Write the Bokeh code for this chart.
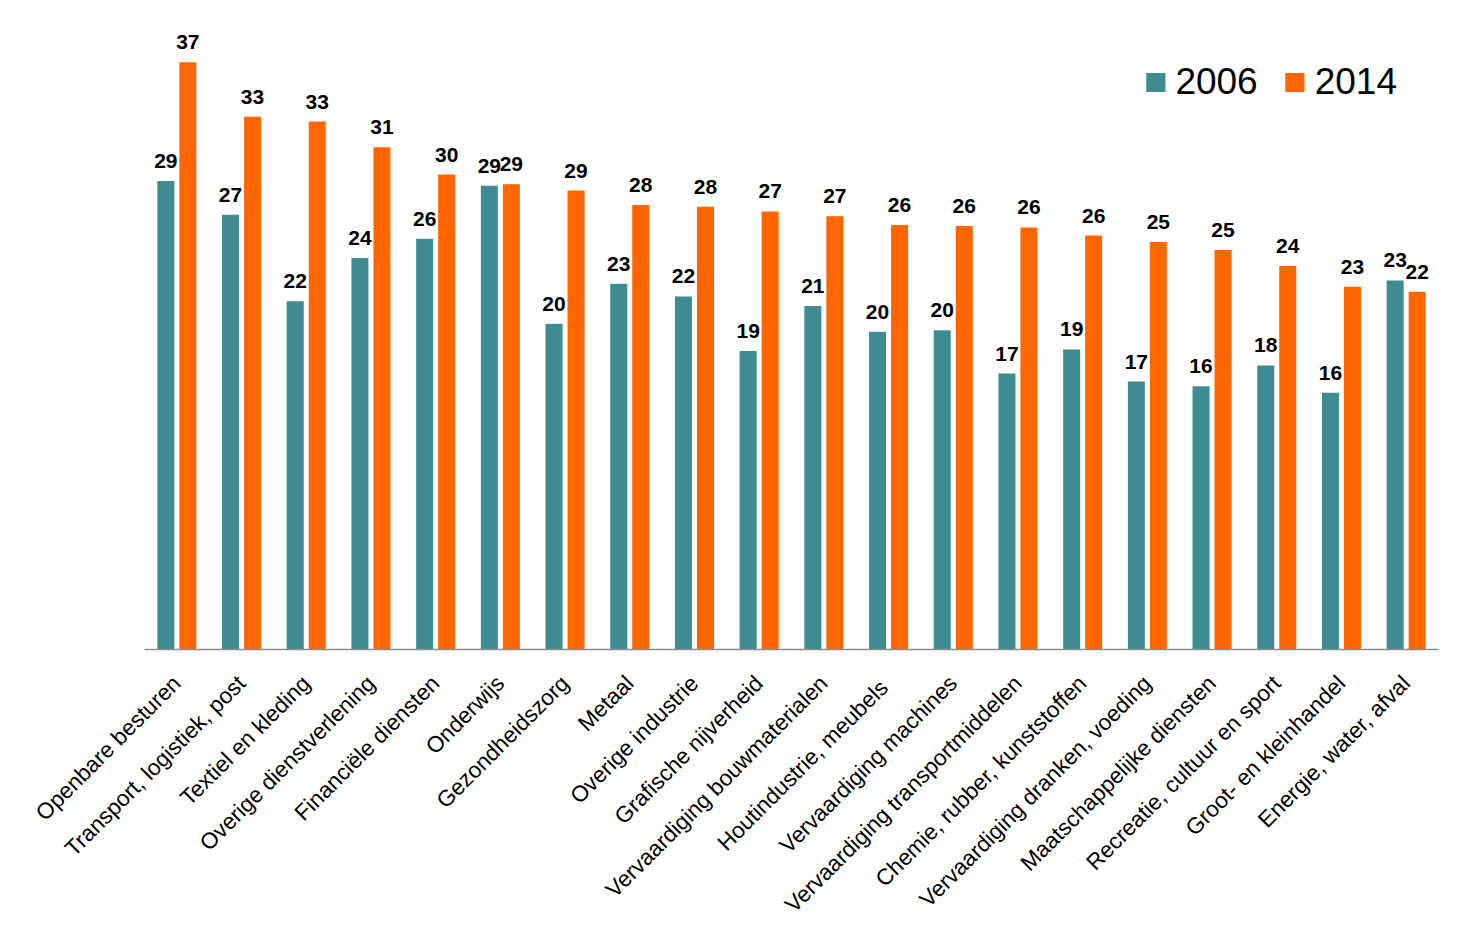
import math
from bokeh.plotting import figure
from bokeh.models import ColumnDataSource, FactorRange, Range1d, Legend, LegendItem
from bokeh.transform import dodge
from bokeh.core.properties import value
from bokeh.embed import file_html
from bokeh.resources import INLINE

categories = [
    "Openbare besturen", "Transport, logistiek, post", "Textiel en kleding",
    "Overige dienstverlening", "Financiële diensten", "Onderwijs",
    "Gezondheidszorg", "Metaal", "Overige industrie", "Grafische nijverheid",
    "Vervaardiging bouwmaterialen", "Houtindustrie,  meubels",
    "Vervaardiging machines", "Vervaardiging transportmiddelen",
    "Chemie, rubber, kunststoffen", "Vervaardiging dranken, voeding",
    "Maatschappelijke diensten", "Recreatie, cultuur en sport",
    "Groot- en kleinhandel", "Energie, water, afval",
]
values_2006 = [29.2, 27.1, 21.7, 24.4, 25.6, 28.9, 20.3, 22.8, 22.0, 18.6,
               21.4, 19.8, 19.9, 17.2, 18.7, 16.7, 16.4, 17.7, 16.0, 23.0]
values_2014 = [36.6, 33.2, 32.9, 31.3, 29.6, 29.0, 28.6, 27.7, 27.6, 27.3,
               27.0, 26.45, 26.4, 26.3, 25.8, 25.4, 24.9, 23.9, 22.6, 22.3]
series_names = ["2006", "2014"]

labels_2006 = [str(int(round(v))) for v in values_2006]
labels_2014 = [str(int(round(v))) for v in values_2014]

source = ColumnDataSource(dict(
    cat=categories, v2006=values_2006, v2014=values_2014,
    l2006=labels_2006, l2014=labels_2014,
))

TEAL = "#3e8c92"
ORANGE = "#ff6600"
FONT = "Liberation Sans"

p = figure(
    x_range=FactorRange(*categories, range_padding=0),
    y_range=Range1d(0, 39.2),
    width=1462, height=929,
    output_backend="svg", toolbar_location=None,
    min_border_left=144, min_border_right=24,
    min_border_top=20, min_border_bottom=272,
)
p.outline_line_color = None
p.xgrid.grid_line_color = None
p.ygrid.grid_line_color = None
p.yaxis.visible = False

off = 0.17
bw = 0.263
r1 = p.vbar(x=dodge("cat", -off, range=p.x_range), top="v2006", width=bw,
            source=source, fill_color=TEAL, line_color=None)
r2 = p.vbar(x=dodge("cat", off, range=p.x_range), top="v2014", width=bw,
            source=source, fill_color=ORANGE, line_color=None)

for col, lab, dx in (("v2006", "l2006", -off), ("v2014", "l2014", off)):
    p.text(x=dodge("cat", dx, range=p.x_range), y=col, text=lab, source=source,
           text_align="center", text_baseline="alphabetic", y_offset=-20,
           text_font_size="21px", text_font_style="bold", text_color="black",
           text_font=value(FONT))

xa = p.xaxis[0]
xa.axis_line_color = "#8c8c8c"
xa.axis_line_width = 1.5
xa.major_tick_line_color = None
xa.minor_tick_line_color = None
xa.major_label_orientation = math.pi / 4
xa.major_label_text_font = FONT
xa.major_label_text_font_size = "22.5px"
xa.major_label_text_color = "black"
xa.major_label_standoff = 24

legend = Legend(items=[LegendItem(label=series_names[0], renderers=[r1]),
                       LegendItem(label=series_names[1], renderers=[r2])],
                orientation="horizontal", location="top_right")
legend.border_line_color = None
legend.background_fill_alpha = 0
legend.margin = 41
legend.padding = 0
legend.spacing = 25
legend.label_standoff = 8
legend.glyph_width = 24
legend.glyph_height = 24
legend.label_text_font = FONT
legend.label_text_font_size = "37px"
legend.label_text_color = "black"
p.add_layout(legend, "center")

open("out.html", "w").write(file_html(p, INLINE))
